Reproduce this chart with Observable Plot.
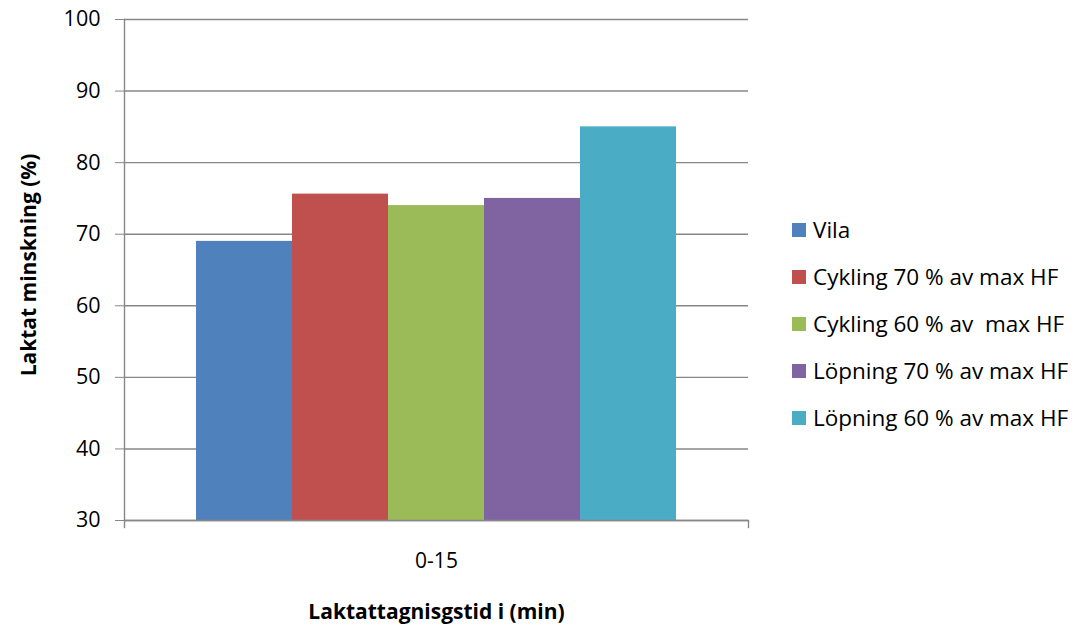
<!DOCTYPE html>
<html>
<head>
<meta charset="utf-8">
<script src="https://cdn.jsdelivr.net/npm/d3@7"></script>
<script src="https://cdn.jsdelivr.net/npm/@observablehq/plot@0.6"></script>
<style>
  body { margin: 0; background: #fff; font-family: "Open Sans", sans-serif; }
  #chart { position: relative; width: 1080px; height: 635px; }
  #legend { position: absolute; left: 792px; top: 206px; }
  .item { display: flex; align-items: center; height: 47px; font-size: 22.5px; color: #000; white-space: pre; }
  .sw { width: 14px; height: 14px; margin-right: 7px; flex: none; }
</style>
</head>
<body>
<div id="chart"><div id="legend"></div></div>
<script>
// Lactate reduction per recovery method, sampling window 0-15 min
const category = "0-15";
const series = [
  "Vila",
  "Cykling 70 % av max HF",
  "Cykling 60 % av  max HF",
  "Löpning 70 % av max HF",
  "Löpning 60 % av max HF"
];
const values = [69, 75.6, 74, 75, 85];
const colors = ["#4F81BD", "#C0504D", "#9BBB59", "#8064A2", "#4BACC6"];
const yTicks = [30, 40, 50, 60, 70, 80, 90, 100];
const yTitle = "Laktat minskning (%)";
const xTitle = "Laktattagnisgstid i (min)";

const data = series.map((s, i) => ({period: category, series: s, value: values[i]}));
const axisGray = "#878787";

const plot = Plot.plot({
  width: 1080,
  height: 635,
  marginLeft: 124,
  marginRight: 332,
  marginTop: 19,
  marginBottom: 115,
  style: {fontFamily: "Open Sans, sans-serif", fontSize: "21px", color: "#000", background: "#fff"},
  fx: {domain: [category], padding: 0},
  x: {domain: series, paddingInner: 0, paddingOuter: 0.735, axis: null},
  y: {domain: [30, 100]},
  color: {domain: series, range: colors},
  marks: [
    Plot.gridY(yTicks, {stroke: axisGray, strokeOpacity: 1, strokeWidth: 1.4}),
    Plot.barY(data, {fx: "period", x: "series", y1: 30, y2: "value", fill: "series"}),
    Plot.axisY(yTicks, {tickSize: 9, tickPadding: 15, stroke: axisGray, label: null, fontSize: 21.5}),
    Plot.axisFx({anchor: "bottom", tickSize: 0, tickPadding: 33, label: null, fontSize: 21}),
    Plot.ruleY([30], {stroke: axisGray, strokeWidth: 1.4}),
    Plot.frame({anchor: "left", stroke: axisGray, strokeWidth: 1.4}),
    Plot.frame({anchor: "left", stroke: axisGray, strokeWidth: 1.4, insetTop: 501, insetBottom: -7}),
    Plot.frame({anchor: "right", stroke: axisGray, strokeWidth: 1.4, insetTop: 501, insetBottom: -7}),
    Plot.text([yTitle], {frameAnchor: "left", dx: -95, dy: -5, rotate: -90, textAnchor: "middle", lineAnchor: "middle", fontWeight: "bold", fontSize: 21}),
    Plot.text([xTitle], {frameAnchor: "bottom", dy: 92, textAnchor: "middle", lineAnchor: "middle", fontWeight: "bold", fontSize: 21})
  ]
});
document.getElementById("chart").prepend(plot);

// Legend at right, one row per series
const legend = d3.select("#legend");
series.forEach((s, i) => {
  const row = legend.append("div").attr("class", "item");
  row.append("div").attr("class", "sw").style("background", colors[i]);
  row.append("span").text(s);
});
</script>
</body>
</html>
